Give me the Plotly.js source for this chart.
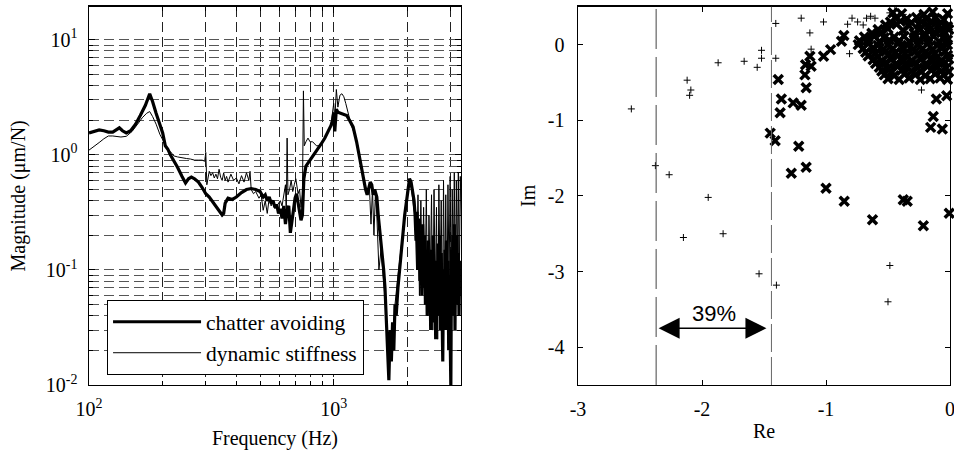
<!DOCTYPE html>
<html><head><meta charset="utf-8">
<script src="https://cdn.plot.ly/plotly-3.0.1.min.js"></script>
<style>html,body{margin:0;padding:0;background:#fff}#chart{width:954px;height:454px}</style>
</head><body><div id="chart"></div>
<script>
// ---- Left panel: frequency response magnitude ----
const freqChatter = [
 100,105,110,115,120,125,130,133,137,142,
 148,155,162,170,177,182,188,193,200,205,
 210,215,222,230,240,248,255,262,270,280,
 290,300,310,320,330,340,350,355,360,365,
 370,385,400,420,440,460,480,500,515,525,
 535,545,555,565,575,585,595,605,615,625,
 635,645,655,665,675,685,695,705,715,725,
 735,745,755,770,800,830,860,890,920,950,
 975,990,1000,1010,1025,1040,1070,1100,1130,1160,
 1200,1240,1280,1320,1350,1370,1390,1410,1430,1450,
 1470,1500,1520,1550,1580,1600,1620,1640,1660,1680,
 1700,1720,1740,1760,1780,1800,1830,1860,1900,1950,
 2000,2040,2070,2100,2130,2150,2170,2190,2210,2230,
 2250,2270,2290,2310,2330,2350,2370,2390,2410,2430,
 2450,2470,2490,2510,2530,2550,2570,2590,2610,2630,
 2650,2670,2690,2710,2730,2750,2770,2790,2810,2830,
 2850,2870,2890,2910,2930,2950,2970,2990,3010,3030,
 3050,3070,3090,3110,3130,3150,3170,3190,3210,3230,
 3250,3270,3290,3310];
const magChatter = [
 1.55,1.6,1.65,1.62,1.58,1.58,1.68,1.72,1.62,1.55,
 1.62,1.85,2.2,2.7,3.4,2.9,2.3,1.9,1.55,1.2,
 1.12,1.0,0.9,0.78,0.65,0.57,0.62,0.64,0.62,0.58,
 0.52,0.46,0.43,0.39,0.36,0.32,0.3,0.31,0.38,0.4,
 0.42,0.41,0.43,0.47,0.5,0.51,0.5,0.48,0.43,0.45,
 0.4,0.43,0.38,0.4,0.35,0.37,0.31,0.34,0.28,0.36,
 0.25,0.33,0.36,0.21,0.27,0.35,0.42,0.46,0.38,0.33,
 0.27,0.3,0.62,0.8,0.9,1.0,1.1,1.25,1.4,1.6,
 1.8,2.0,2.3,1.6,2.5,2.35,2.3,2.25,2.2,2.0,
 1.75,1.3,0.9,0.65,0.5,0.45,0.5,0.58,0.55,0.45,
 0.5,0.43,0.3,0.2,0.15,0.1,0.07,0.04,0.02,0.011,
 0.03,0.016,0.035,0.02,0.05,0.04,0.07,0.1,0.18,0.3,
 0.45,0.62,0.58,0.5,0.4,0.3,0.18,0.32,0.1,0.28,
 0.08,0.22,0.06,0.25,0.07,0.2,0.05,0.15,0.04,0.18,
 0.06,0.12,0.03,0.15,0.05,0.2,0.035,0.12,0.025,0.1,
 0.05,0.17,0.04,0.2,0.03,0.14,0.06,0.016,0.1,0.04,
 0.15,0.03,0.18,0.05,0.12,0.02,0.09,0.04,0.0097,0.15,
 0.04,0.2,0.06,0.25,0.03,0.15,0.05,0.2,0.07,0.14,
 0.04,0.1,0.06,0.12];

const freqStiff = [
 100,105,110,115,120,125,130,135,142,150,
 158,165,172,177,182,188,195,200,205,210,
 215,222,230,240,250,260,270,280,290,297,
 300,303,310,315,320,325,330,335,340,345,
 350,355,360,365,370,380,390,400,410,420,
 430,440,450,455,460,470,480,495,505,515,
 525,535,545,555,565,575,585,595,605,615,
 625,635,640,645,650,660,670,680,690,700,
 715,725,735,745,752,758,770,785,800,820,
 850,880,920,950,975,990,1000,1010,1025,1040,
 1060,1080,1100,1120,1150,1180,1220,1260,1300,1340,
 1370,1400,1420,1440,1460,1480,1500,1530,1560,1600,
 1640,1670,1700,1740,1780,1820,1860,1900,1950,2000,
 2040,2080,2120,2150,2180,2210,2240,2270,2300,2330,
 2360,2390,2420,2450,2480,2510,2540,2570,2600,2630,
 2660,2690,2720,2750,2780,2810,2840,2870,2900,2930,
 2960,2990,3020,3050,3080,3110,3140,3170,3200,3230,
 3260,3290,3320];
const magStiff = [
 1.1,1.2,1.28,1.38,1.46,1.46,1.44,1.43,1.45,1.6,
 1.85,2.1,2.3,2.38,2.15,1.85,1.5,1.35,1.2,1.12,
 1.07,0.98,0.96,0.94,0.93,0.92,0.9,0.9,0.9,0.88,
 1.05,0.55,0.72,0.66,0.7,0.63,0.68,0.62,0.75,0.64,
 0.6,0.7,0.6,0.65,0.58,0.68,0.6,0.63,0.56,0.66,
 0.58,0.7,0.6,0.72,0.5,0.46,0.48,0.42,0.45,0.33,
 0.4,0.31,0.42,0.36,0.4,0.34,0.36,0.38,0.4,0.36,
 0.45,0.55,0.3,1.4,0.45,0.5,0.6,0.48,0.55,0.62,
 0.46,0.5,0.35,0.45,3.6,1.2,1.3,1.4,1.3,1.3,
 1.2,1.2,1.4,1.6,1.85,2.3,2.8,2.0,3.7,2.6,
 3.3,3.4,3.2,2.8,2.2,1.8,1.5,1.1,0.8,0.55,
 0.48,0.5,0.25,0.5,0.2,0.45,0.3,0.1,0.15,0.08,
 0.04,0.015,0.025,0.02,0.05,0.08,0.12,0.2,0.33,0.48,
 0.58,0.5,0.35,0.3,0.1,0.45,0.06,0.4,0.08,0.35,
 0.05,0.5,0.04,0.3,0.08,0.45,0.03,0.5,0.06,0.35,
 0.025,0.55,0.07,0.4,0.03,0.6,0.05,0.45,0.04,0.55,
 0.08,0.65,0.06,0.5,0.1,0.7,0.05,0.6,0.1,0.7,
 0.08,0.65,0.3];

const freqTicks = [100, 1000];
const freqTickText = ['10<sup>2</sup>', '10<sup>3</sup>'];
const magTicks = [0.01, 0.1, 1, 10];
const magTickText = ['10<sup>-2</sup>', '10<sup>-1</sup>', '10<sup>0</sup>', '10<sup>1</sup>'];
const freqMinor = [200,300,400,500,600,700,800,900,2000,3000];
const magMinor = [0.02,0.03,0.04,0.05,0.06,0.07,0.08,0.09,0.2,0.3,0.4,0.5,0.6,0.7,0.8,0.9,2,3,4,5,6,7,8,9];

// ---- Right panel: poles in complex plane ----
const plusRe = [-2.57,-2.376,-2.265,-2.12,-2.09,-2.10,-2.15,-1.95,-1.87,-1.83,
 -1.66,-1.555,-1.52,-1.52,-1.54,-1.405,-1.405,-1.40,-1.20,-1.13,
 -1.12,-1.02,-0.98,-0.826,-0.81,-0.79,-0.745,-0.70,-0.673,-0.64,
 -0.605,-0.485,-0.445,-0.377,-0.23,-0.485,-0.50,-0.027];
const plusIm = [-0.85,-1.60,-1.72,-0.47,-0.60,-0.67,-2.55,-2.02,-0.24,-2.50,
 -0.22,-0.30,-0.075,-0.18,-3.03,0.28,-0.18,-3.18,0.35,0.155,
 -0.06,0.30,0.51,0.27,-0.12,0.35,0.30,0.26,0.35,0.375,
 0.35,0.42,0.45,0.40,-0.60,-2.92,-3.40,0.51];

const crossRe = [-1.385,-1.36,-1.37,-1.265,-1.20,-1.45,-1.41,-1.22,-1.28,-1.16,
 -1.17,-1.16,-1.165,-1.13,-1.12,-1.02,-0.963,-0.875,-0.856,-1.0,
 -0.853,-0.625,-0.377,-0.345,-0.215,-0.006,-0.135,-0.156,-0.062,-0.11,-0.027,
 -0.46,-0.39,-0.21,-0.14,-0.02,
 -0.44,-0.35,-0.27,-0.19,-0.12,-0.05,
 -0.48,-0.40,-0.31,-0.23,-0.15,-0.07,
 -0.52,-0.43,-0.33,-0.25,-0.17,-0.09,-0.02,
 -0.58,-0.5,-0.38,-0.24,-0.16,-0.08,-0.01,
 -0.63,-0.55,-0.29,-0.2,-0.12,-0.04,
 -0.69,-0.61,-0.53,-0.45,-0.37,-0.29,-0.21,-0.13,-0.05,
 -0.73,-0.66,-0.57,-0.49,-0.41,-0.33,-0.25,-0.17,-0.09,-0.02,
 -0.74,-0.66,-0.58,-0.5,-0.42,-0.34,-0.26,-0.18,-0.1,-0.02,
 -0.7,-0.62,-0.54,-0.46,-0.38,-0.3,-0.22,-0.14,-0.06,
 -0.68,-0.6,-0.52,-0.44,-0.36,-0.28,-0.2,-0.12,-0.04,
 -0.66,-0.58,-0.5,-0.42,-0.34,-0.26,-0.18,-0.1,-0.02,
 -0.62,-0.55,-0.47,-0.39,-0.31,-0.23,-0.15,-0.07,-0.01,
 -0.6,-0.52,-0.44,-0.36,-0.28,-0.2,-0.12,-0.04,
 -0.57,-0.5,-0.42,-0.34,-0.26,-0.18,-0.1,-0.03,
 -0.55,-0.47,-0.39,-0.31,-0.23,-0.15,-0.07,-0.01,
 -0.53,-0.45,-0.37,-0.28,-0.2,-0.12,-0.05,
 -0.5,-0.41,-0.33,-0.24,-0.16,-0.08,-0.02];
const crossIm = [-0.46,-0.72,-0.90,-0.77,-0.80,-1.17,-1.27,-1.345,-1.70,-1.62,
 -0.40,-0.57,-0.265,-0.155,-0.285,-0.155,-0.066,0.044,0.12,-1.90,
 -2.07,-2.315,-2.05,-2.07,-2.395,-2.23,-0.95,-1.094,-1.116,-0.72,-0.675,
 0.42,0.41,0.40,0.43,0.41,
 0.35,0.34,0.36,0.34,0.35,0.33,
 0.30,0.31,0.29,0.30,0.31,0.29,
 0.26,0.27,0.25,0.27,0.25,0.26,0.24,
 0.20,0.21,0.19,0.20,0.21,0.19,0.20,
 0.15,0.16,0.15,0.14,0.16,0.15,
 0.10,0.11,0.09,0.10,0.11,0.09,0.10,0.11,0.09,
 0.05,0.06,0.04,0.06,0.05,0.04,0.06,0.05,0.04,0.06,
 0.0,0.01,-0.01,0.0,0.01,-0.01,0.0,0.01,-0.01,0.0,
 -0.05,-0.04,-0.06,-0.05,-0.04,-0.06,-0.05,-0.06,-0.04,
 -0.10,-0.11,-0.09,-0.10,-0.11,-0.09,-0.10,-0.11,-0.09,
 -0.15,-0.16,-0.14,-0.15,-0.16,-0.14,-0.15,-0.16,-0.14,
 -0.20,-0.21,-0.19,-0.20,-0.21,-0.19,-0.20,-0.21,-0.19,
 -0.25,-0.24,-0.26,-0.25,-0.24,-0.26,-0.25,-0.24,
 -0.30,-0.31,-0.29,-0.30,-0.31,-0.29,-0.30,-0.31,
 -0.35,-0.36,-0.34,-0.35,-0.36,-0.34,-0.35,-0.36,
 -0.40,-0.41,-0.39,-0.40,-0.41,-0.39,-0.40,
 -0.45,-0.46,-0.44,-0.46,-0.45,-0.44,-0.46];

const reTicks = [-3, -2, -1, 0];
const reTickText = ['-3', '-2', '-1', '0'];
const imTicks = [-4, -3, -2, -1, 0];
const imTickText = ['-4', '-3', '-2', '-1', '0'];
const marginBounds = [-2.37, -1.44];   // stability margin lines (Re)
const marginArrowIm = -3.75;
const marginLabel = '39%';
const marginLabelIm = -3.55;

const serif = 'Liberation Serif, Times New Roman, serif';

const traces = [
  {x: freqChatter, y: magChatter, type: 'scatter', mode: 'lines', name: 'chatter avoiding',
   line: {color: '#000', width: 3.2}, xaxis: 'x', yaxis: 'y', legendgroup: 'a'},
  {x: freqStiff, y: magStiff, type: 'scatter', mode: 'lines', name: 'dynamic stiffness',
   line: {color: '#000', width: 1}, xaxis: 'x', yaxis: 'y', legendgroup: 'b'},
  {x: plusRe, y: plusIm, type: 'scatter', mode: 'markers', showlegend: false, cliponaxis: false,
   marker: {symbol: 'cross-thin', size: 5, color: '#000', line: {color: '#000', width: 1}},
   xaxis: 'x2', yaxis: 'y2'},
  {x: crossRe, y: crossIm, type: 'scatter', mode: 'markers', showlegend: false, cliponaxis: false,
   marker: {symbol: 'x-thin', size: 9, color: '#000', line: {color: '#000', width: 3.5}},
   xaxis: 'x2', yaxis: 'y2'}
];

const gridDash = '10px,5px';
const layout = {
  width: 954, height: 454,
  margin: {l: 0, r: 0, t: 0, b: 0},
  paper_bgcolor: '#fff', plot_bgcolor: '#fff',
  font: {family: serif, color: '#000', size: 20},
  showlegend: true,
  legend: {x: 0.112, y: 0.339, xanchor: 'left', yanchor: 'top',
    bgcolor: '#fff', bordercolor: '#000', borderwidth: 1.2,
    font: {family: serif, size: 21.5, color: '#000'}, tracegroupgap: 0, itemwidth: 88},
  xaxis: {
    type: 'log', domain: [0.0933, 0.4832], range: [2, 3.52], anchor: 'y',
    tickmode: 'array', tickvals: freqTicks, ticktext: freqTickText,
    tickfont: {family: serif, size: 20}, ticklabelstandoff: 6,
    ticks: 'inside', ticklen: 6, tickcolor: '#000', mirror: 'allticks',
    showline: true, linecolor: '#000', linewidth: 1.5,
    showgrid: true, gridcolor: '#222', griddash: gridDash, gridwidth: 1,
    minor: {tickmode: 'array', tickvals: freqMinor, ticks: 'inside', ticklen: 4, tickcolor: '#000',
      showgrid: true, gridcolor: '#222', griddash: gridDash, gridwidth: 1},
    zeroline: false, automargin: false,
    title: {text: 'Frequency (Hz)', font: {family: serif, size: 20}, standoff: 11}
  },
  yaxis: {
    type: 'log', domain: [0.152, 0.985], range: [-2, 1.287], anchor: 'x',
    tickmode: 'array', tickvals: magTicks, ticktext: magTickText,
    tickfont: {family: serif, size: 20}, ticklabelstandoff: 6,
    ticks: 'inside', ticklen: 6, tickcolor: '#000', mirror: 'allticks',
    showline: true, linecolor: '#000', linewidth: 1.5,
    showgrid: true, gridcolor: '#555', griddash: gridDash, gridwidth: 1,
    minor: {tickmode: 'array', tickvals: magMinor, ticks: 'inside', ticklen: 4, tickcolor: '#000',
      showgrid: true, gridcolor: '#555', griddash: gridDash, gridwidth: 1},
    zeroline: false, automargin: false,
    title: {text: 'Magnitude (μm/N)', font: {family: serif, size: 20}, standoff: 15}
  },
  xaxis2: {
    domain: [0.6059, 0.9958], range: [-3, 0], anchor: 'y2',
    tickmode: 'array', tickvals: reTicks, ticktext: reTickText,
    tickfont: {family: serif, size: 20}, ticklabelstandoff: 6, ticklabeloverflow: 'allow',
    ticks: 'inside', ticklen: 5, tickcolor: '#000', mirror: 'ticks',
    showline: true, linecolor: '#000', linewidth: 1.5,
    showgrid: false, zeroline: false, automargin: false,
    title: {text: 'Re', font: {family: serif, size: 20}, standoff: 4}
  },
  yaxis2: {
    domain: [0.152, 0.985], range: [-4.5, 0.5], anchor: 'x2',
    tickmode: 'array', tickvals: imTicks, ticktext: imTickText,
    tickfont: {family: serif, size: 20}, ticklabelstandoff: 8,
    ticks: 'inside', ticklen: 5, tickcolor: '#000', mirror: 'ticks',
    showline: true, linecolor: '#000', linewidth: 1.5,
    showgrid: false, zeroline: false, automargin: false,
    title: {text: 'Im', font: {family: serif, size: 20}, standoff: 7}
  },
  shapes: [
    {type: 'line', xref: 'x2', yref: 'y2 domain', x0: marginBounds[0], x1: marginBounds[0], y0: 0, y1: 1,
     line: {color: '#444', width: 1, dash: '40px,8px'}},
    {type: 'line', xref: 'x2', yref: 'y2 domain', x0: marginBounds[1], x1: marginBounds[1], y0: 0, y1: 1,
     line: {color: '#666', width: 1, dash: '28px,5px'}}
  ],
  annotations: [
    {xref: 'x2', yref: 'y2', axref: 'x2', ayref: 'y2',
     x: marginBounds[1], y: marginArrowIm, ax: marginBounds[0], ay: marginArrowIm,
     text: '', showarrow: true, arrowside: 'end+start', arrowhead: 2, startarrowhead: 2,
     arrowsize: 3, startarrowsize: 3, arrowwidth: 1.4, arrowcolor: '#000', standoff: 5, startstandoff: 1},
    {xref: 'x2', yref: 'y2', x: (marginBounds[0] + marginBounds[1]) / 2, y: marginLabelIm,
     text: marginLabel, showarrow: false,
     font: {family: 'Liberation Sans, Arial, sans-serif', size: 22, color: '#000'}}
  ]
};

Plotly.newPlot('chart', traces, layout, {displayModeBar: false, staticPlot: true});
</script>
</body></html>
